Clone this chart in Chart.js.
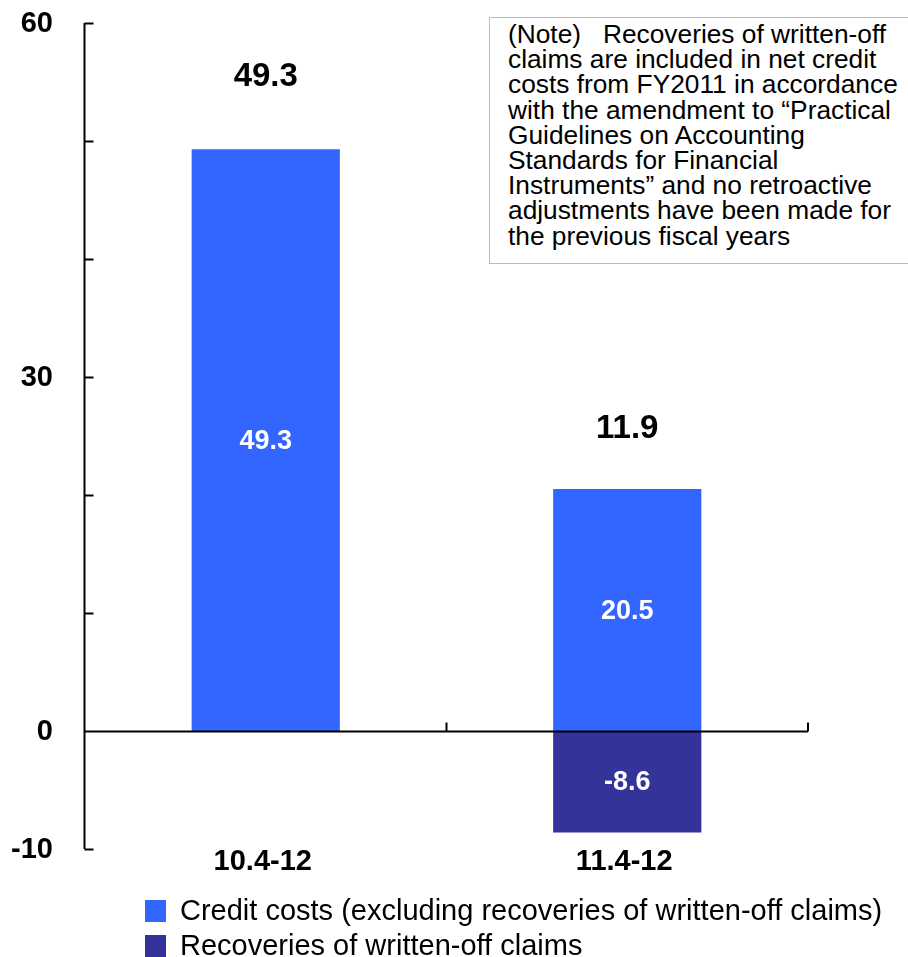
<!DOCTYPE html>
<html>
<head>
<meta charset="utf-8">
<script src="https://cdn.jsdelivr.net/npm/chart.js@4/dist/chart.umd.min.js"></script>
<style>
  html, body { margin: 0; padding: 0; background: #fff; }
  #wrap { position: relative; width: 908px; height: 957px; overflow: hidden; }
  #note {
    position: absolute; left: 489px; top: 17px; width: 430px; height: 247px;
    border: 1px solid #9fc2ef; box-sizing: border-box;
    padding: 4px 0 0 18px;
    font-family: "Liberation Sans", Arial, sans-serif; font-size: 26.3px; line-height: 25.2px;
    color: #000; white-space: pre; background: #fff;
  }
</style>
</head>
<body>
<div id="wrap">
  <canvas id="grafico" width="908" height="957"></canvas>
  <div id="note">(Note)   Recoveries of written-off
claims are included in net credit
costs from FY2011 in accordance
with the amendment to “Practical
Guidelines on Accounting
Standards for Financial
Instruments” and no retroactive
adjustments have been made for
the previous fiscal years</div>
</div>
<script>
// Períodos e valores (bilhões de ienes)
const categorias = ["10.4-12", "11.4-12"];
const custosCredito = [49.3, 20.5];
const recuperacoes = [null, -8.6];
const totais = [49.3, 11.9];
const rotulosY = [60, 30, 0, -10];

const fonte = '"Liberation Sans", Arial, sans-serif';

// Eixos, rótulos e legenda desenhados à mão
const extras = {
  id: "extras",
  afterDatasetsDraw(chart, args, opts) {
    const { ctx, chartArea, scales } = chart;
    const x = scales.x, y = scales.y;
    const y0 = Math.round(y.getPixelForValue(0)) + 0.5;
    const xEixo = Math.round(chartArea.left) - 0.5;

    ctx.save();
    ctx.strokeStyle = "#000";
    ctx.lineWidth = 2;
    // eixo vertical + marcas
    ctx.beginPath();
    ctx.moveTo(xEixo, y.getPixelForValue(60));
    ctx.lineTo(xEixo, y.getPixelForValue(-10));
    for (let v = -10; v <= 60; v += 10) {
      const py = Math.round(y.getPixelForValue(v)) + 0.5;
      ctx.moveTo(xEixo, py);
      ctx.lineTo(xEixo + 9, py);
    }
    // eixo horizontal no zero + marcas
    ctx.moveTo(xEixo, y0);
    ctx.lineTo(chartArea.right, y0);
    const meio = (x.getPixelForValue(0) + x.getPixelForValue(1)) / 2;
    [meio, chartArea.right].forEach(px => {
      ctx.moveTo(px, y0);
      ctx.lineTo(px, y0 - 9);
    });
    ctx.stroke();

    // rótulos do eixo Y
    ctx.fillStyle = "#000";
    ctx.font = "bold 29px " + fonte;
    ctx.textAlign = "right";
    ctx.textBaseline = "middle";
    rotulosY.forEach(v => ctx.fillText(String(v), 53, y.getPixelForValue(v) + 1));

    // categorias
    ctx.textAlign = "center";
    ctx.font = "bold 29px " + fonte;
    categorias.forEach((c, j) => ctx.fillText(c, x.getPixelForValue(j) - 3, 862));

    // valores dentro das barras
    ctx.fillStyle = "#fff";
    ctx.font = "bold 27px " + fonte;
    chart.data.datasets.forEach((ds, i) => {
      chart.getDatasetMeta(i).data.forEach((bar, j) => {
        const v = ds.data[j];
        if (v == null) return;
        ctx.fillText(v.toFixed(1), bar.x, (bar.y + bar.base) / 2 + 1);
      });
    });

    // totais acima das barras
    ctx.fillStyle = "#000";
    ctx.font = "bold 33px " + fonte;
    chart.getDatasetMeta(0).data.forEach((bar, j) => {
      ctx.fillText(totais[j].toFixed(1), bar.x, bar.y - opts.afastamento[j]);
    });

    // legenda
    ctx.font = "29px " + fonte;
    ctx.textAlign = "left";
    chart.data.datasets.forEach((ds, i) => {
      const top = 900 + i * 35;
      ctx.fillStyle = ds.backgroundColor;
      ctx.fillRect(145, top, 21, 22);
      ctx.fillStyle = "#000";
      ctx.fillText(ds.label, 180, top + 12);
    });
    ctx.restore();
  }
};

const ctx = document.getElementById("grafico").getContext("2d");
new Chart(ctx, {
  type: "bar",
  data: {
    labels: categorias,
    datasets: [
      {
        label: "Credit costs (excluding recoveries of written-off claims)",
        data: custosCredito,
        backgroundColor: "#3366ff"
      },
      {
        label: "Recoveries of written-off claims",
        data: recuperacoes,
        backgroundColor: "#333399"
      }
    ]
  },
  options: {
    responsive: false,
    animation: false,
    layout: { padding: { top: 23, right: 100, left: 0, bottom: 0 } },
    plugins: {
      legend: { display: false },
      tooltip: { enabled: false },
      extras: { afastamento: [72, 60] }
    },
    datasets: { bar: { categoryPercentage: 1, barPercentage: 0.41, borderWidth: 0 } },
    scales: {
      x: {
        stacked: true,
        grid: { display: false, drawTicks: false },
        border: { display: false },
        ticks: { display: false },
        afterFit(s) { s.height = 108; }
      },
      y: {
        stacked: true,
        min: -10,
        max: 60,
        grid: { display: false, drawTicks: false },
        border: { display: false },
        ticks: { display: false, stepSize: 10 },
        afterFit(s) { s.width = 85; }
      }
    }
  },
  plugins: [extras]
});
</script>
</body>
</html>
